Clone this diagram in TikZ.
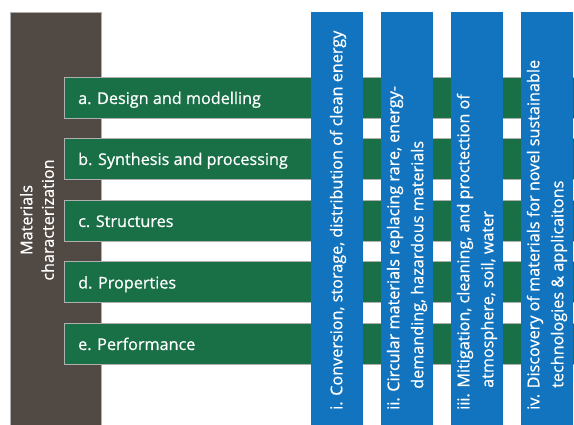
\documentclass[tikz,border=0pt]{standalone}
\usepackage{fontspec}
\setmainfont{Open Sans}[FakeBold=0.7]
\newfontfamily\labfont{Open Sans}[FakeBold=0.7]
\definecolor{mcbrown}{RGB}{81,73,68}
\definecolor{mcgreen}{RGB}{25,112,70}
\definecolor{mcblue}{RGB}{18,116,190}
\definecolor{edgegray}{RGB}{175,175,175}
\begin{document}
\begin{tikzpicture}[x=1pt,y=-1pt,
  bar/.style={rectangle,inner sep=0pt,outer sep=0pt},
  brownbar/.style={bar,fill=mcbrown,draw=edgegray,line width=0.4pt,minimum width=91pt,minimum height=413pt},
  greenbar/.style={bar,fill=mcgreen,draw=edgegray,line width=0.5pt,minimum width=510pt,minimum height=41pt},
  bluebar/.style={bar,fill=mcblue,minimum width=52pt,minimum height=413pt},
  gtext/.style={anchor=base west,inner sep=0pt,text=white,font=\labfont\fontsize{16.2}{19}\selectfont},
  btext/.style={rotate=90,anchor=west,align=left,inner sep=0pt,text=white,font=\labfont\fontsize{16.2}{24}\selectfont},
  mtext/.style={rotate=90,align=center,inner sep=0pt,text=white,font=\labfont\fontsize{16.2}{21.5}\selectfont}]
\useasboundingbox (0,0) rectangle (574,425);
\node[brownbar] (mc) at (55.5,218.5) {};
\node[greenbar] (ga) at (319,97.5) {};
\node[greenbar] (gb) at (319,158.5) {};
\node[greenbar] (gc) at (319,220.5) {};
\node[greenbar] (gd) at (319,282) {};
\node[greenbar] (ge) at (319,343.5) {};
\node[bluebar] (bi) at (337,218.5) {};
\node[bluebar] (bii) at (407,218.5) {};
\node[bluebar] (biii) at (477,218.5) {};
\node[bluebar] (biv) at (547,218.5) {};
\node[mtext] (tm) at (37,220) {Materials\\characterization};
\node[gtext] (ta) at (78,104) {a. Design and modelling};
\node[gtext] (tb) at (78,165) {b. Synthesis and processing};
\node[gtext] (tc) at (78,227) {c. Structures};
\node[gtext] (td) at (78,288.5) {d. Properties};
\node[gtext] (te) at (78,350) {e. Performance};
\node[btext] (ti) at (338,410) {i. Conversion, storage, distribution of clean energy};
\node[btext] (tii) at (407,410) {ii. Circular materials replacing rare, energy-\\\hspace*{21pt}demanding, hazardous materials};
\node[btext] (tiii) at (477,410) {iii. Mitigation, cleaning, and proctection of\\\hspace*{22pt}atmosphere, soil, water};
\node[btext] (tiv) at (547,410) {iv. Discovery of materials for novel sustainable\\\hspace*{22pt}technologies \& applicaitons};
\end{tikzpicture}
\end{document}
